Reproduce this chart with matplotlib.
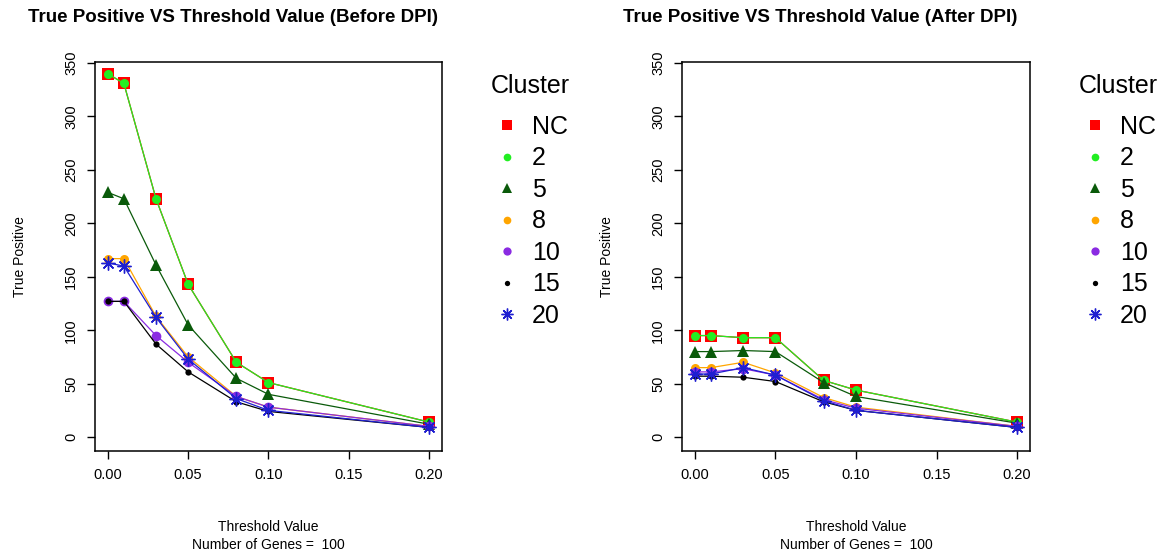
import numpy as np
import matplotlib.pyplot as plt

plt.rcParams['font.family'] = ['Liberation Sans', 'DejaVu Sans']

# threshold values on the x axis
thresholds = [0.00, 0.01, 0.03, 0.05, 0.08, 0.10, 0.20]
clusters = ['NC', '2', '5', '8', '10', '15', '20']

# true positives before DPI
nc_before = [340, 331, 223, 143, 70, 51, 14]
c2_before = [340, 331, 223, 143, 70, 51, 14]
c5_before = [229, 223, 161, 105, 55, 40, 12]
c8_before = [167, 167, 113, 75, 38, 28, 10]
c10_before = [127, 127, 95, 70, 38, 28, 10]
c15_before = [127, 127, 87, 61, 33, 24, 9]
c20_before = [163, 160, 112, 73, 36, 25, 9]

# true positives after DPI
nc_after = [95, 95, 93, 93, 53, 44, 14]
c2_after = [95, 95, 93, 93, 53, 44, 14]
c5_after = [80, 80, 81, 80, 51, 38, 13]
c8_after = [65, 65, 70, 60, 37, 28, 10]
c10_after = [61, 61, 64, 58, 35, 27, 10]
c15_after = [57, 57, 56, 52, 33, 25, 9]
c20_after = [59, 59, 65, 58, 34, 25, 9]

colors = ['#ff0000', '#22ee22', '#0a5a0a', '#ffa500', '#8a2be2', '#000000', '#1f1fd0']
markers = ['s', 'o', '^', 'o', 'o', 'o', (8, 2, 0)]
msizes = [8.5, 6.5, 8.5, 6.5, 7, 4.5, 10]


def draw_panel(ax, series, title, xt):
    for vals, col, mk, ms, lab in zip(series, colors, markers, msizes, clusters):
        mew = 1.0 if mk == (8, 2, 0) else 0
        ax.plot(thresholds, vals, '-', color=col, lw=0.9, marker=mk, ms=ms,
                mec=col, mew=mew, label=lab)
    ax.set_xlim(-0.008, 0.208)
    ax.set_ylim(-13, 351)
    ax.set_xticks([0.0, 0.05, 0.10, 0.15, 0.20])
    ax.set_xticklabels(['0.00', '0.05', '0.10', '0.15', '0.20'], fontsize=10.5)
    ax.set_yticks(range(0, 351, 50))
    ax.set_yticklabels([str(v) for v in range(0, 351, 50)], fontsize=10.5,
                       rotation=90, va='center')
    ax.tick_params(direction='out', length=6, width=1, pad=6)
    for sp in ax.spines.values():
        sp.set_linewidth(1.1)
    ax.text(0.5, -0.195, 'Threshold Value', transform=ax.transAxes,
            ha='center', va='center', fontsize=10)
    ax.text(0.5, -0.241, 'Number of Genes =  100', transform=ax.transAxes,
            ha='center', va='center', fontsize=10)
    ax.set_ylabel('True Positive', fontsize=10)
    ax.yaxis.set_label_coords(-0.196, 0.5)
    fig.text(xt, 0.968, title, ha='center', va='center', fontsize=13.5, weight='bold')
    # legend sits to the right of the plot box
    ax.text(1.141, 0.938, 'Cluster', transform=ax.transAxes,
            ha='left', va='center', fontsize=18)
    leg = ax.legend(loc='upper left', bbox_to_anchor=(1.144, 0.864), frameon=False,
                    fontsize=18, borderpad=0, borderaxespad=0,
                    handletextpad=0.4, handlelength=1.2, labelspacing=0.3,
                    markerscale=0.85)
    for h in leg.legend_handles:
        h.set_linestyle('none')


fig = plt.figure(figsize=(11.65, 5.58), dpi=100)
ax1 = fig.add_axes([0.0815, 0.1918, 0.2979, 0.6971])
ax2 = fig.add_axes([0.5854, 0.1918, 0.2987, 0.6971])

draw_panel(ax1, [nc_before, c2_before, c5_before, c8_before, c10_before,
                 c15_before, c20_before],
           'True Positive VS Threshold Value (Before DPI)', 0.200)
draw_panel(ax2, [nc_after, c2_after, c5_after, c8_after, c10_after,
                 c15_after, c20_after],
           'True Positive VS Threshold Value (After DPI)', 0.704)

fig.savefig('out.png', dpi=100)
